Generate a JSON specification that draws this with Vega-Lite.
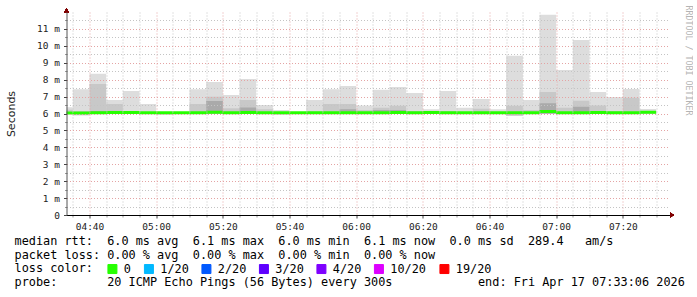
{
  "$schema": "https://vega.github.io/schema/vega-lite/v6.json",
  "width": 603,
  "height": 203,
  "padding": {"left": 5.5, "top": 5, "right": 0, "bottom": 0},
  "background": "#ffffff",
  "config": {"view": {"stroke": null}},
  "title": {
    "text": [
      "median rtt:\u00a0\u00a06.0 ms avg\u00a0\u00a06.1 ms max\u00a0\u00a06.0 ms min\u00a0\u00a06.1 ms now\u00a0\u00a00.0 ms sd\u00a0\u00a0289.4\u00a0\u00a0\u00a0am/s",
      "packet loss: 0.00 % avg\u00a0\u00a00.00 % max\u00a0\u00a00.00 % min\u00a0\u00a00.00 % now",
      "loss color:",
      "probe:\u00a0\u00a0\u00a0\u00a0\u00a0\u00a0\u00a020 ICMP Echo Pings (56 Bytes) every 300s\u00a0\u00a0\u00a0\u00a0\u00a0\u00a0\u00a0\u00a0\u00a0\u00a0\u00a0\u00a0end: Fri Apr 17 07:33:06 2026"
    ],
    "orient": "bottom",
    "anchor": "start",
    "frame": "group",
    "font": "DejaVu Sans Mono",
    "fontSize": 11.85,
    "fontWeight": "normal",
    "color": "#000000",
    "lineHeight": 13.67,
    "baseline": "alphabetic",
    "dx": -52,
    "offset": -31
  },
  "data": {"values": [
    {"t0": "2026-04-17T04:30:00", "t1": "2026-04-17T04:35:00", "lo": 5.98, "mid": 6.22, "dark": null, "hi": 6.37, "med": 6.03, "loss": "0"},
    {"t0": "2026-04-17T04:35:00", "t1": "2026-04-17T04:40:00", "lo": 5.89, "mid": 6.15, "dark": null, "hi": 7.43, "med": 6.03, "loss": "0"},
    {"t0": "2026-04-17T04:40:00", "t1": "2026-04-17T04:45:00", "lo": 5.98, "mid": 7.74, "dark": 6.15, "hi": 8.35, "med": 6.05, "loss": "0"},
    {"t0": "2026-04-17T04:45:00", "t1": "2026-04-17T04:50:00", "lo": 5.98, "mid": 6.56, "dark": null, "hi": 6.80, "med": 6.06, "loss": "0"},
    {"t0": "2026-04-17T04:50:00", "t1": "2026-04-17T04:55:00", "lo": 5.98, "mid": 6.12, "dark": null, "hi": 7.33, "med": 6.06, "loss": "0"},
    {"t0": "2026-04-17T04:55:00", "t1": "2026-04-17T05:00:00", "lo": 5.98, "mid": null, "dark": null, "hi": 6.56, "med": 6.05, "loss": "0"},
    {"t0": "2026-04-17T05:00:00", "t1": "2026-04-17T05:05:00", "lo": 5.93, "mid": null, "dark": null, "hi": 6.08, "med": 6.04, "loss": "0"},
    {"t0": "2026-04-17T05:05:00", "t1": "2026-04-17T05:10:00", "lo": 5.98, "mid": null, "dark": null, "hi": 6.08, "med": 6.04, "loss": "0"},
    {"t0": "2026-04-17T05:10:00", "t1": "2026-04-17T05:15:00", "lo": 5.98, "mid": 6.56, "dark": null, "hi": 7.43, "med": 6.04, "loss": "0"},
    {"t0": "2026-04-17T05:15:00", "t1": "2026-04-17T05:20:00", "lo": 5.98, "mid": 6.99, "dark": 6.74, "hi": 7.86, "med": 6.08, "loss": "0"},
    {"t0": "2026-04-17T05:20:00", "t1": "2026-04-17T05:25:00", "lo": 5.98, "mid": 6.31, "dark": null, "hi": 7.09, "med": 6.04, "loss": "0"},
    {"t0": "2026-04-17T05:25:00", "t1": "2026-04-17T05:30:00", "lo": 5.98, "mid": 6.80, "dark": 6.35, "hi": 8.04, "med": 6.06, "loss": "0"},
    {"t0": "2026-04-17T05:30:00", "t1": "2026-04-17T05:35:00", "lo": 5.98, "mid": 6.25, "dark": null, "hi": 6.50, "med": 6.04, "loss": "0"},
    {"t0": "2026-04-17T05:35:00", "t1": "2026-04-17T05:40:00", "lo": 5.93, "mid": null, "dark": null, "hi": 6.21, "med": 6.04, "loss": "0"},
    {"t0": "2026-04-17T05:40:00", "t1": "2026-04-17T05:45:00", "lo": 5.98, "mid": null, "dark": null, "hi": 6.08, "med": 6.04, "loss": "0"},
    {"t0": "2026-04-17T05:45:00", "t1": "2026-04-17T05:50:00", "lo": 5.98, "mid": 6.12, "dark": null, "hi": 6.80, "med": 6.04, "loss": "0"},
    {"t0": "2026-04-17T05:50:00", "t1": "2026-04-17T05:55:00", "lo": 5.98, "mid": 6.56, "dark": null, "hi": 7.43, "med": 6.05, "loss": "0"},
    {"t0": "2026-04-17T05:55:00", "t1": "2026-04-17T06:00:00", "lo": 5.98, "mid": 6.56, "dark": 6.25, "hi": 7.63, "med": 6.05, "loss": "0"},
    {"t0": "2026-04-17T06:00:00", "t1": "2026-04-17T06:05:00", "lo": 5.98, "mid": 6.21, "dark": null, "hi": 6.48, "med": 6.04, "loss": "0"},
    {"t0": "2026-04-17T06:05:00", "t1": "2026-04-17T06:10:00", "lo": 5.98, "mid": 6.34, "dark": 6.20, "hi": 7.41, "med": 6.05, "loss": "0"},
    {"t0": "2026-04-17T06:10:00", "t1": "2026-04-17T06:15:00", "lo": 5.98, "mid": 6.46, "dark": 6.21, "hi": 7.57, "med": 6.06, "loss": "0"},
    {"t0": "2026-04-17T06:15:00", "t1": "2026-04-17T06:20:00", "lo": 5.98, "mid": 6.15, "dark": null, "hi": 7.21, "med": 6.04, "loss": "0"},
    {"t0": "2026-04-17T06:20:00", "t1": "2026-04-17T06:25:00", "lo": 5.98, "mid": null, "dark": null, "hi": 6.25, "med": 6.06, "loss": "0"},
    {"t0": "2026-04-17T06:25:00", "t1": "2026-04-17T06:30:00", "lo": 5.98, "mid": 6.15, "dark": null, "hi": 7.33, "med": 6.05, "loss": "0"},
    {"t0": "2026-04-17T06:30:00", "t1": "2026-04-17T06:35:00", "lo": 5.98, "mid": null, "dark": null, "hi": 6.34, "med": 6.04, "loss": "0"},
    {"t0": "2026-04-17T06:35:00", "t1": "2026-04-17T06:40:00", "lo": 5.98, "mid": 6.28, "dark": null, "hi": 6.86, "med": 6.05, "loss": "0"},
    {"t0": "2026-04-17T06:40:00", "t1": "2026-04-17T06:45:00", "lo": 5.98, "mid": null, "dark": null, "hi": 6.25, "med": 6.04, "loss": "0"},
    {"t0": "2026-04-17T06:45:00", "t1": "2026-04-17T06:50:00", "lo": 5.87, "mid": 6.46, "dark": null, "hi": 9.42, "med": 6.05, "loss": "0"},
    {"t0": "2026-04-17T06:50:00", "t1": "2026-04-17T06:55:00", "lo": 5.98, "mid": 6.21, "dark": null, "hi": 6.80, "med": 6.05, "loss": "0"},
    {"t0": "2026-04-17T06:55:00", "t1": "2026-04-17T07:00:00", "lo": 5.98, "mid": 7.27, "dark": 6.60, "hi": 11.84, "med": 6.12, "loss": "0"},
    {"t0": "2026-04-17T07:00:00", "t1": "2026-04-17T07:05:00", "lo": 5.98, "mid": 6.34, "dark": null, "hi": 8.57, "med": 6.04, "loss": "0"},
    {"t0": "2026-04-17T07:05:00", "t1": "2026-04-17T07:10:00", "lo": 5.98, "mid": 6.76, "dark": 6.40, "hi": 10.34, "med": 6.05, "loss": "0"},
    {"t0": "2026-04-17T07:10:00", "t1": "2026-04-17T07:15:00", "lo": 5.98, "mid": 6.48, "dark": null, "hi": 7.27, "med": 6.06, "loss": "0"},
    {"t0": "2026-04-17T07:15:00", "t1": "2026-04-17T07:20:00", "lo": 5.98, "mid": 6.15, "dark": null, "hi": 6.98, "med": 6.04, "loss": "0"},
    {"t0": "2026-04-17T07:20:00", "t1": "2026-04-17T07:25:00", "lo": 5.98, "mid": 6.93, "dark": null, "hi": 7.45, "med": 6.05, "loss": "0"},
    {"t0": "2026-04-17T07:25:00", "t1": "2026-04-17T07:30:00", "lo": 5.98, "mid": 6.15, "dark": null, "hi": 6.27, "med": 6.08, "loss": "0"}
  ]},
  "layer": [
    {
      "mark": {"type": "rect", "color": "#dddddd", "clip": true},
      "encoding": {
        "x": {"field": "t0", "type": "temporal",
          "scale": {"domain": [{"year": 2026, "month": 4, "date": 17, "hours": 4, "minutes": 33, "seconds": 6}, {"year": 2026, "month": 4, "date": 17, "hours": 7, "minutes": 34, "seconds": 0}], "nice": false},
          "axis": {"orient": "bottom",
            "values": [
              {"year": 2026, "month": 4, "date": 17, "hours": 4, "minutes": 35}, {"year": 2026, "month": 4, "date": 17, "hours": 4, "minutes": 45},
              {"year": 2026, "month": 4, "date": 17, "hours": 4, "minutes": 50}, {"year": 2026, "month": 4, "date": 17, "hours": 4, "minutes": 55},
              {"year": 2026, "month": 4, "date": 17, "hours": 5, "minutes": 5}, {"year": 2026, "month": 4, "date": 17, "hours": 5, "minutes": 10},
              {"year": 2026, "month": 4, "date": 17, "hours": 5, "minutes": 15}, {"year": 2026, "month": 4, "date": 17, "hours": 5, "minutes": 25},
              {"year": 2026, "month": 4, "date": 17, "hours": 5, "minutes": 30}, {"year": 2026, "month": 4, "date": 17, "hours": 5, "minutes": 35},
              {"year": 2026, "month": 4, "date": 17, "hours": 5, "minutes": 45}, {"year": 2026, "month": 4, "date": 17, "hours": 5, "minutes": 50},
              {"year": 2026, "month": 4, "date": 17, "hours": 5, "minutes": 55}, {"year": 2026, "month": 4, "date": 17, "hours": 6, "minutes": 5},
              {"year": 2026, "month": 4, "date": 17, "hours": 6, "minutes": 10}, {"year": 2026, "month": 4, "date": 17, "hours": 6, "minutes": 15},
              {"year": 2026, "month": 4, "date": 17, "hours": 6, "minutes": 25}, {"year": 2026, "month": 4, "date": 17, "hours": 6, "minutes": 30},
              {"year": 2026, "month": 4, "date": 17, "hours": 6, "minutes": 35}, {"year": 2026, "month": 4, "date": 17, "hours": 6, "minutes": 45},
              {"year": 2026, "month": 4, "date": 17, "hours": 6, "minutes": 50}, {"year": 2026, "month": 4, "date": 17, "hours": 6, "minutes": 55},
              {"year": 2026, "month": 4, "date": 17, "hours": 7, "minutes": 5}, {"year": 2026, "month": 4, "date": 17, "hours": 7, "minutes": 10},
              {"year": 2026, "month": 4, "date": 17, "hours": 7, "minutes": 15}, {"year": 2026, "month": 4, "date": 17, "hours": 7, "minutes": 25},
              {"year": 2026, "month": 4, "date": 17, "hours": 7, "minutes": 30}
            ],
            "grid": true, "gridColor": "#c4c4c4", "gridDash": [1, 2], "gridWidth": 1, "labels": false, "ticks": true, "tickSize": 2, "tickColor": "#999999", "domain": false, "title": null, "zindex": 1}},
        "x2": {"field": "t1"},
        "y": {"field": "lo", "type": "quantitative",
          "scale": {"domain": [0, 12], "nice": false},
          "axis": {"orient": "left", "values": [0.5, 1.5, 2.5, 3.5, 4.5, 5.5, 6.5, 7.5, 8.5, 9.5, 10.5, 11.5], "grid": true, "gridColor": "#c4c4c4", "gridDash": [1, 2], "gridWidth": 1, "labels": false, "ticks": true, "tickSize": 2, "tickColor": "#999999", "domain": false, "title": null, "zindex": 1}},
        "y2": {"field": "hi"}
      }
    },
    {
      "transform": [{"filter": "datum.mid != null"}],
      "mark": {"type": "rect", "color": "#c8c8c8", "clip": true},
      "encoding": {
        "x": {"field": "t0", "type": "temporal", "axis": null,
          "scale": {"domain": [{"year": 2026, "month": 4, "date": 17, "hours": 4, "minutes": 33, "seconds": 6}, {"year": 2026, "month": 4, "date": 17, "hours": 7, "minutes": 34, "seconds": 0}], "nice": false}},
        "x2": {"field": "t1"},
        "y": {"field": "lo", "type": "quantitative", "scale": {"domain": [0, 12], "nice": false},
          "axis": {"orient": "right", "title": "RRDTOOL / TOBI OETIKER", "labels": false, "ticks": false, "domain": false, "grid": false,
            "titleX": 17.5, "titleY": 48, "titleAngle": 90, "titleAlign": "center", "titleBaseline": "middle",
            "titleFont": "DejaVu Sans Mono", "titleFontSize": 8.3, "titleFontWeight": "normal", "titleColor": "#b4b4b4"}},
        "y2": {"field": "mid"}
      }
    },
    {
      "transform": [{"filter": "datum.dark != null"}],
      "mark": {"type": "rect", "color": "#aaaaaa", "clip": true},
      "encoding": {
        "x": {"field": "t0", "type": "temporal", "axis": null,
          "scale": {"domain": [{"year": 2026, "month": 4, "date": 17, "hours": 4, "minutes": 33, "seconds": 6}, {"year": 2026, "month": 4, "date": 17, "hours": 7, "minutes": 34, "seconds": 0}], "nice": false}},
        "x2": {"field": "t1"},
        "y": {"field": "lo", "type": "quantitative", "axis": null, "scale": {"domain": [0, 12], "nice": false}},
        "y2": {"field": "dark"}
      }
    },
    {
      "mark": {"type": "rule", "strokeWidth": 3, "clip": true},
      "encoding": {
        "x": {"field": "t0", "type": "temporal",
          "scale": {"domain": [{"year": 2026, "month": 4, "date": 17, "hours": 4, "minutes": 33, "seconds": 6}, {"year": 2026, "month": 4, "date": 17, "hours": 7, "minutes": 34, "seconds": 0}], "nice": false},
          "axis": {"orient": "bottom",
            "values": [
              {"year": 2026, "month": 4, "date": 17, "hours": 4, "minutes": 40}, {"year": 2026, "month": 4, "date": 17, "hours": 5, "minutes": 0},
              {"year": 2026, "month": 4, "date": 17, "hours": 5, "minutes": 20}, {"year": 2026, "month": 4, "date": 17, "hours": 5, "minutes": 40},
              {"year": 2026, "month": 4, "date": 17, "hours": 6, "minutes": 0}, {"year": 2026, "month": 4, "date": 17, "hours": 6, "minutes": 20},
              {"year": 2026, "month": 4, "date": 17, "hours": 6, "minutes": 40}, {"year": 2026, "month": 4, "date": 17, "hours": 7, "minutes": 0},
              {"year": 2026, "month": 4, "date": 17, "hours": 7, "minutes": 20}
            ],
            "format": "%H:%M", "grid": true, "gridColor": "#e4a4a4", "gridDash": [1, 2], "gridWidth": 1,
            "labels": true, "labelFont": "DejaVu Sans Mono", "labelFontSize": 9.5, "labelColor": "#222222", "labelPadding": 3, "labelFlush": false, "labelOverlap": false,
            "ticks": true, "tickSize": 3, "tickColor": "#444444", "domain": true, "domainColor": "#000000", "domainWidth": 1, "title": null, "zindex": 1}},
        "x2": {"field": "t1"},
        "y": {"field": "med", "type": "quantitative",
          "scale": {"domain": [0, 12], "nice": false},
          "axis": {"orient": "left", "values": [0, 1, 2, 3, 4, 5, 6, 7, 8, 9, 10, 11], "grid": true, "gridColor": "#e4a4a4", "gridDash": [1, 2], "gridWidth": 1,
            "labelExpr": "datum.value == 0 ? '0' : datum.value + ' m'", "labelFont": "DejaVu Sans Mono", "labelFontSize": 9.5, "labelColor": "#222222", "labelPadding": 4, "labelFlush": false, "labelOverlap": false,
            "ticks": true, "tickSize": 3, "tickColor": "#444444", "domain": true, "domainColor": "#555555", "domainWidth": 1,
            "title": "Seconds", "titleFont": "DejaVu Sans", "titleFontSize": 11, "titleFontWeight": "normal", "titleColor": "#222222",
            "titleX": -55, "titleY": 101.5, "titleAngle": 270, "titleAlign": "center", "titleBaseline": "middle", "zindex": 1}},
        "color": {"field": "loss", "type": "nominal",
          "scale": {"domain": ["0", "1/20", "2/20", "3/20", "4/20", "10/20", "19/20"], "range": ["#26ff00", "#00b8ff", "#0059ff", "#5e00ff", "#7e00ff", "#dd00ff", "#ff0000"]},
          "legend": {"orient": "none", "legendX": 40, "legendY": 251, "direction": "horizontal", "columns": 7, "title": null,
            "symbolType": "square", "symbolSize": 81, "symbolStrokeColor": "#000000", "symbolStrokeWidth": 1,
            "labelFont": "DejaVu Sans Mono", "labelFontSize": 11.85, "labelColor": "#000000", "labelOffset": 5.5, "columnPadding": 10.5, "padding": 0,
            "encode": {"symbols": {"update": {"fill": {"scale": "color", "field": "value"}, "stroke": {"value": "#000000"}, "strokeWidth": {"value": 1}, "shape": {"value": "square"}, "opacity": {"value": 1}, "fillOpacity": {"value": 1}}}}}}
      }
    },
    {
      "mark": {"type": "point", "shape": "triangle-up", "filled": true, "color": "#800000", "size": 22, "opacity": 1},
      "encoding": {
        "x": {"datum": {"year": 2026, "month": 4, "date": 17, "hours": 4, "minutes": 33, "seconds": 6}, "type": "temporal", "axis": null,
          "scale": {"domain": [{"year": 2026, "month": 4, "date": 17, "hours": 4, "minutes": 33, "seconds": 6}, {"year": 2026, "month": 4, "date": 17, "hours": 7, "minutes": 34, "seconds": 0}], "nice": false}},
        "y": {"datum": 12.09, "type": "quantitative", "axis": null, "scale": {"domain": [0, 12], "nice": false}}
      }
    },
    {
      "mark": {"type": "point", "shape": "triangle-right", "filled": true, "color": "#800000", "size": 22, "opacity": 1},
      "encoding": {
        "x": {"datum": {"year": 2026, "month": 4, "date": 17, "hours": 7, "minutes": 34, "seconds": 45}, "type": "temporal", "axis": null,
          "scale": {"domain": [{"year": 2026, "month": 4, "date": 17, "hours": 4, "minutes": 33, "seconds": 6}, {"year": 2026, "month": 4, "date": 17, "hours": 7, "minutes": 34, "seconds": 0}], "nice": false}},
        "y": {"datum": 0, "type": "quantitative", "axis": null, "scale": {"domain": [0, 12], "nice": false}}
      }
    }
  ],
  "resolve": {"axis": {"x": "independent", "y": "independent"}}
}
